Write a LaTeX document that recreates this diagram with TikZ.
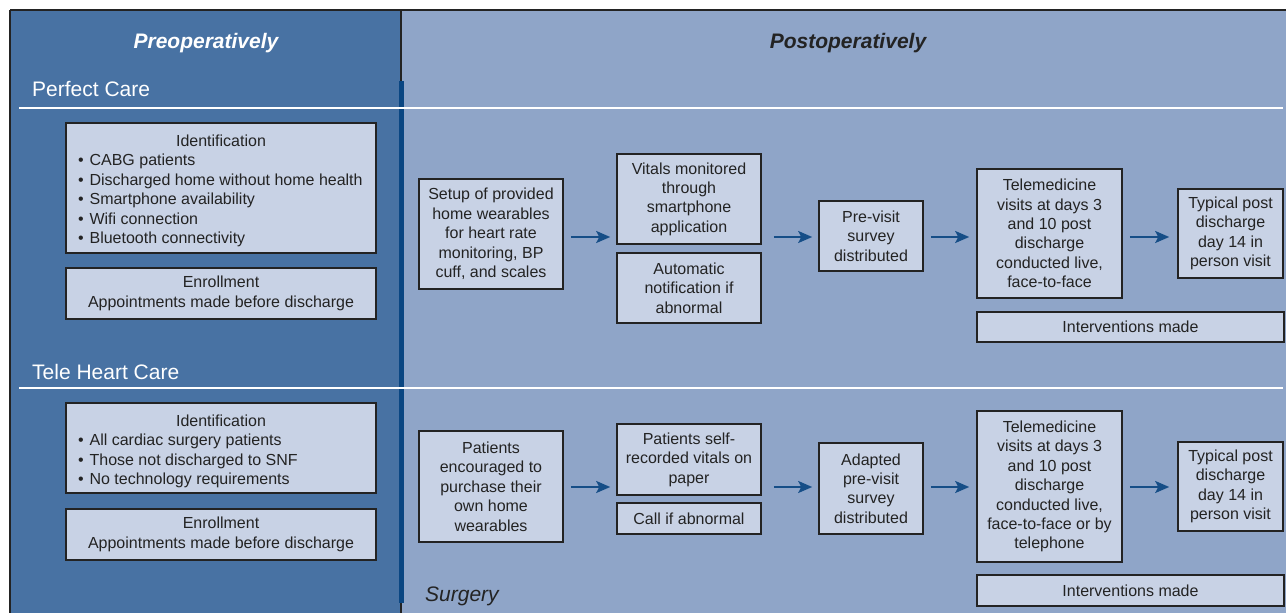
\documentclass[tikz,border=0pt]{standalone}
\usepackage{fontspec}
\setmainfont{Liberation Sans}
\usetikzlibrary{arrows.meta,calc}
\definecolor{leftblue}{RGB}{72,114,163}
\definecolor{rightblue}{RGB}{143,165,200}
\definecolor{boxfill}{RGB}{200,210,229}
\definecolor{arrowblue}{RGB}{22,78,135}
\definecolor{barblue}{RGB}{10,70,130}
\definecolor{textdark}{RGB}{35,35,35}
\definecolor{borderdark}{RGB}{35,35,35}
\newcommand\bxfont{\fontsize{16}{19.4}\selectfont}
\newcommand\hdfont{\fontsize{21}{25}\selectfont}
\tikzset{
  box/.style={draw=borderdark, line width=1.6pt, fill=boxfill, text=textdark,
    align=center, inner sep=0pt, font=\bxfont},
  arr/.style={draw=arrowblue, line width=2pt,
    -{Stealth[length=14pt,width=12pt,inset=3pt]}},
  sectitle/.style={anchor=west, inner sep=0pt, text=white, font=\hdfont},
  coltitle/.style={inner sep=0pt, font=\hdfont\bfseries\itshape},
  sep/.style={draw=white, line width=2pt}
}
\begin{document}
\begin{tikzpicture}[x=1pt,y=-1pt]
\useasboundingbox (0,0) rectangle (1286,613);
\fill[white] (0,0) rectangle (1286,613);
\fill[leftblue] (10,10) rectangle (401,613);
\fill[rightblue] (401,10) rectangle (1286,613);
\draw[borderdark, line width=2pt] (10,10) -- (1286,10);
\draw[borderdark, line width=2pt] (10,10) -- (10,613);
\draw[borderdark, line width=1.5pt] (401,10) -- (401,613);
\fill[barblue] (399,81) rectangle (404,603);
\draw[sep] (19,108) -- (1283,108);
\draw[sep] (19,388) -- (1283,388);

\node[coltitle, text=white] (pre) at (206,43) {Preoperatively};
\node[coltitle, text=textdark] (post) at (848,43) {Postoperatively};
\node[sectitle] (pc) at (32,89.5) {Perfect Care};
\node[sectitle] (thc) at (32,371.5) {Tele Heart Care};
\node[anchor=west, inner sep=0pt, text=textdark, font=\hdfont\itshape] (surg) at (425,596) {Surgery};

% Perfect care row
\node[box, minimum width=310pt, minimum height=130pt] (id1) at (221,188) {%
  \begin{tabular}{@{}p{286pt}@{}}\multicolumn{1}{@{}c@{}}{\rule{0pt}{20pt}Identification}\\
  •\hspace{6pt}CABG patients\\
  •\hspace{6pt}Discharged home without home health\\
  •\hspace{6pt}Smartphone availability\\
  •\hspace{6pt}Wifi connection\\
  •\hspace{6pt}Bluetooth connectivity\end{tabular}};
\node[box, minimum width=310pt, minimum height=51pt] (en1) at (221,293.5)
  {Enrollment\\Appointments made before discharge};
\node[box, minimum width=144pt, minimum height=110pt] (setup) at (491,234)
  {Setup of provided\\home wearables\\for heart rate\\monitoring, BP\\cuff, and scales};
\node[box, minimum width=144pt, minimum height=90pt] (vit) at (689,199)
  {Vitals monitored\\through\\smartphone\\application};
\node[box, minimum width=144pt, minimum height=70pt] (auto) at (689,288)
  {Automatic\\notification if\\abnormal};
\node[box, minimum width=104pt, minimum height=70pt] (prev) at (871,236)
  {Pre-visit\\survey\\distributed};
\node[box, minimum width=145pt, minimum height=129pt] (tele1) at (1049.5,233.5)
  {Telemedicine\\visits at days 3\\and 10 post\\discharge\\conducted live,\\face-to-face};
\node[box, minimum width=105pt, minimum height=89pt] (typ1) at (1230.5,233.5)
  {Typical post\\discharge\\day 14 in\\person visit};
\node[box, minimum width=307pt, minimum height=30pt] (int1) at (1130.5,327)
  {Interventions made};

% Tele heart care row
\node[box, minimum width=310pt, minimum height=90pt] (id2) at (221,448) {%
  \begin{tabular}{@{}p{286pt}@{}}\multicolumn{1}{@{}c@{}}{\rule{0pt}{20.5pt}Identification}\\
  •\hspace{6pt}All cardiac surgery patients\\
  •\hspace{6pt}Those not discharged to SNF\\
  •\hspace{6pt}No technology requirements\end{tabular}};
\node[box, minimum width=310pt, minimum height=51pt] (en2) at (221,534.5)
  {Enrollment\\Appointments made before discharge};
\node[box, minimum width=144pt, minimum height=111pt] (enc) at (491,486.5)
  {Patients\\encouraged to\\purchase their\\own home\\wearables};
\node[box, minimum width=144pt, minimum height=71pt] (self) at (689,459.5)
  {Patients self-\\recorded vitals on\\paper};
\node[box, minimum width=144pt, minimum height=31pt] (call) at (689,518.5)
  {Call if abnormal};
\node[box, minimum width=104pt, minimum height=91pt] (adapt) at (871,488.5)
  {Adapted\\pre-visit\\survey\\distributed};
\node[box, minimum width=145pt, minimum height=151pt] (tele2) at (1049.5,486.5)
  {Telemedicine\\visits at days 3\\and 10 post\\discharge\\conducted live,\\face-to-face or by\\telephone};
\node[box, minimum width=105pt, minimum height=89pt] (typ2) at (1230.5,486.5)
  {Typical post\\discharge\\day 14 in\\person visit};
\node[box, minimum width=307pt, minimum height=31pt] (int2) at (1130.5,590.5)
  {Interventions made};

% arrows row 1 (y = 237)
\coordinate (r1) at (0,237);
\draw[arr, shorten <=7pt, shorten >=6pt] (setup.east |- r1) -- (vit.west |- r1);
\draw[arr, shorten <=12pt, shorten >=6pt] (vit.east |- r1) -- (prev.west |- r1);
\draw[arr, shorten <=7pt, shorten >=7pt] (prev.east |- r1) -- (tele1.west |- r1);
\draw[arr, shorten <=7pt, shorten >=8pt] (tele1.east |- r1) -- (typ1.west |- r1);
% arrows row 2 (y = 487)
\coordinate (r2) at (0,487);
\draw[arr, shorten <=7pt, shorten >=6pt] (enc.east |- r2) -- (self.west |- r2);
\draw[arr, shorten <=12pt, shorten >=6pt] (self.east |- r2) -- (adapt.west |- r2);
\draw[arr, shorten <=7pt, shorten >=7pt] (adapt.east |- r2) -- (tele2.west |- r2);
\draw[arr, shorten <=7pt, shorten >=8pt] (tele2.east |- r2) -- (typ2.west |- r2);
\end{tikzpicture}
\end{document}
